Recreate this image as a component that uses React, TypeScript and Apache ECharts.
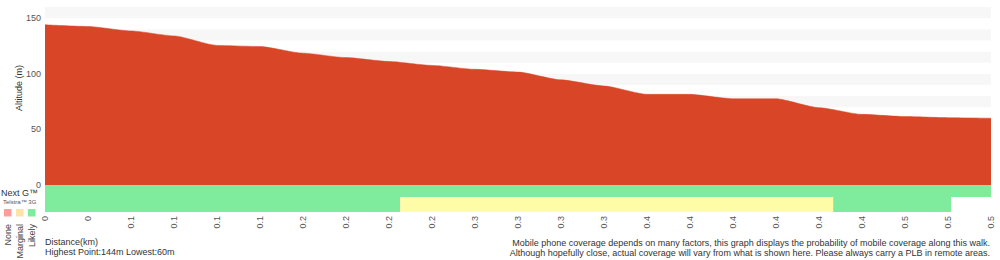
import React, { useEffect, useRef } from "react";
import * as echarts from "echarts";

const distanceLabels = ["0", "0", "0.1", "0.1", "0.1", "0.1", "0.2", "0.2", "0.2", "0.2", "0.3", "0.3", "0.3", "0.3", "0.4", "0.4", "0.4", "0.4", "0.4", "0.4", "0.5", "0.5", "0.5"];
const altitudes = [144, 142.5, 138.5, 134, 125.5, 124.5, 118.5, 114.5, 111, 107.5, 104, 101.5, 94.5, 89, 81.5, 81.5, 77.5, 77.5, 69.5, 63.5, 61.5, 60.5, 60];
const yTickLabels = [0, 50, 100, 150];
// coverage segments: [row, startIndex, endIndex, status]  status 0=None 1=Marginal 2=Likely
const nextGCoverage = [[0, 0, 22, 2]];
const telstra3GCoverage = [
  [1, 0, 8.26, 2],
  [1, 8.26, 18.33, 1],
  [1, 18.33, 21.07, 2],
];
const coverageNames = ["None", "Marginal", "Likely"];
const coverageColors = ["#ff9c9c", "#fde3a6", "#7eeb9d"];
const barColors = ["#ff9c9c", "#fffca8", "#7eeb9d"];
const rowNames = ["Next G™", "Telstra™ 3G"];
const highest = 144;
const lowest = 60;

const FONT = "'Liberation Sans', Arial, Helvetica, sans-serif";

export default function App() {
  const ref = useRef<HTMLDivElement>(null);
  useEffect(() => {
    if (!ref.current) return;
    const chart = echarts.init(ref.current, undefined, { renderer: "svg" });
    const legendGraphics: any[] = [];
    coverageNames.forEach((name, i) => {
      legendGraphics.push({
        type: "rect",
        left: 4 + i * 12,
        top: 209,
        shape: { width: 7.5, height: 7.5 },
        style: { fill: coverageColors[i] },
      });
      legendGraphics.push({
        type: "text",
        x: 8 + i * 12,
        y: 224,
        rotation: Math.PI / 2,
        style: {
          text: name,
          fontSize: 9,
          fontFamily: FONT,
          fill: "#444",
          align: "right",
          verticalAlign: "middle",
        },
      });
    });
    chart.setOption({
      animation: false,
      textStyle: { fontFamily: FONT },
      grid: [
        { left: 45, top: 7, width: 946, height: 178 },
        { left: 45, top: 185, width: 946, height: 27 },
      ],
      xAxis: [
        {
          gridIndex: 0,
          type: "category",
          data: distanceLabels,
          boundaryGap: false,
          show: false,
        },
        {
          gridIndex: 1,
          type: "value",
          min: 0,
          max: distanceLabels.length - 1,
          interval: 1,
          axisLine: { show: false },
          axisTick: { show: false },
          splitLine: { show: false },
          axisLabel: {
            rotate: 90,
            margin: 4,
            fontSize: 9,
            color: "#555",
            fontFamily: FONT,
            formatter: (v: number) => distanceLabels[Math.round(v)] ?? "",
          },
        },
      ],
      yAxis: [
        {
          gridIndex: 0,
          type: "value",
          min: 0,
          max: 160,
          interval: 10,
          axisLine: { show: false },
          axisTick: { show: false },
          splitLine: { show: false },
          splitArea: { show: true, areaStyle: { color: ["#ffffff", "#f7f7f7"] } },
          axisLabel: {
            margin: 4,
            fontSize: 9,
            color: "#555",
            fontFamily: FONT,
            formatter: (v: number) => (yTickLabels.includes(v) ? String(v) : ""),
          },
        },
        {
          gridIndex: 1,
          type: "value",
          min: 0,
          max: 2,
          show: false,
        },
      ],
      series: [
        {
          type: "line",
          xAxisIndex: 0,
          yAxisIndex: 0,
          data: altitudes,
          symbol: "none",
          smooth: 0.2,
          smoothMonotone: "x",
          lineStyle: { width: 0.5, color: "#d84627" },
          areaStyle: { color: "#d84627", opacity: 1 },
        },
        {
          type: "custom",
          xAxisIndex: 1,
          yAxisIndex: 1,
          data: [...nextGCoverage, ...telstra3GCoverage],
          encode: { x: [1, 2], y: 0 },
          renderItem: (params: any, api: any) => {
            const row = api.value(0);
            const x0 = api.coord([api.value(1), 0])[0];
            const x1 = api.coord([api.value(2), 0])[0];
            const cs = params.coordSys;
            const y = row === 0 ? cs.y : cs.y + 12;
            const h = row === 0 ? 12 : cs.height - 12;
            return {
              type: "rect",
              shape: { x: x0, y, width: x1 - x0, height: h },
              style: { fill: barColors[api.value(3)] },
            };
          },
        },
      ],
      graphic: [
        {
          type: "text",
          x: 19,
          y: 88,
          rotation: Math.PI / 2,
          style: {
            text: "Altitude (m)",
            fontSize: 9,
            fontFamily: FONT,
            fill: "#333",
            align: "center",
            verticalAlign: "middle",
          },
        },
        {
          type: "text",
          x: 1,
          y: 193,
          style: {
            text: rowNames[0],
            fontSize: 9,
            fontFamily: FONT,
            fill: "#333",
            verticalAlign: "middle",
          },
        },
        {
          type: "text",
          x: 3,
          y: 202,
          style: {
            text: rowNames[1],
            fontSize: 6,
            fontFamily: FONT,
            fill: "#555",
            verticalAlign: "middle",
          },
        },
        ...legendGraphics,
        {
          type: "text",
          x: 45,
          y: 242,
          style: {
            text: "Distance(km)",
            fontSize: 9,
            fontFamily: FONT,
            fill: "#333",
            verticalAlign: "middle",
          },
        },
        {
          type: "text",
          x: 45,
          y: 252,
          style: {
            text: `Highest Point:${highest}m Lowest:${lowest}m`,
            fontSize: 9,
            fontFamily: FONT,
            fill: "#333",
            verticalAlign: "middle",
          },
        },
        {
          type: "text",
          x: 990,
          y: 243,
          style: {
            text: "Mobile phone coverage depends on many factors, this graph displays the probability of mobile coverage along this walk.",
            fontSize: 9,
            fontFamily: FONT,
            fill: "#333",
            align: "right",
            verticalAlign: "middle",
          },
        },
        {
          type: "text",
          x: 990,
          y: 253,
          style: {
            text: "Although hopefully close, actual coverage will vary from what is shown here. Please always carry a PLB in remote areas.",
            fontSize: 9,
            fontFamily: FONT,
            fill: "#333",
            align: "right",
            verticalAlign: "middle",
          },
        },
      ],
    });
    return () => chart.dispose();
  }, []);
  return (
    <div
      ref={ref}
      style={{ position: "fixed", left: 0, top: 0, width: 1000, height: 260, background: "#fff" }}
    />
  );
}
